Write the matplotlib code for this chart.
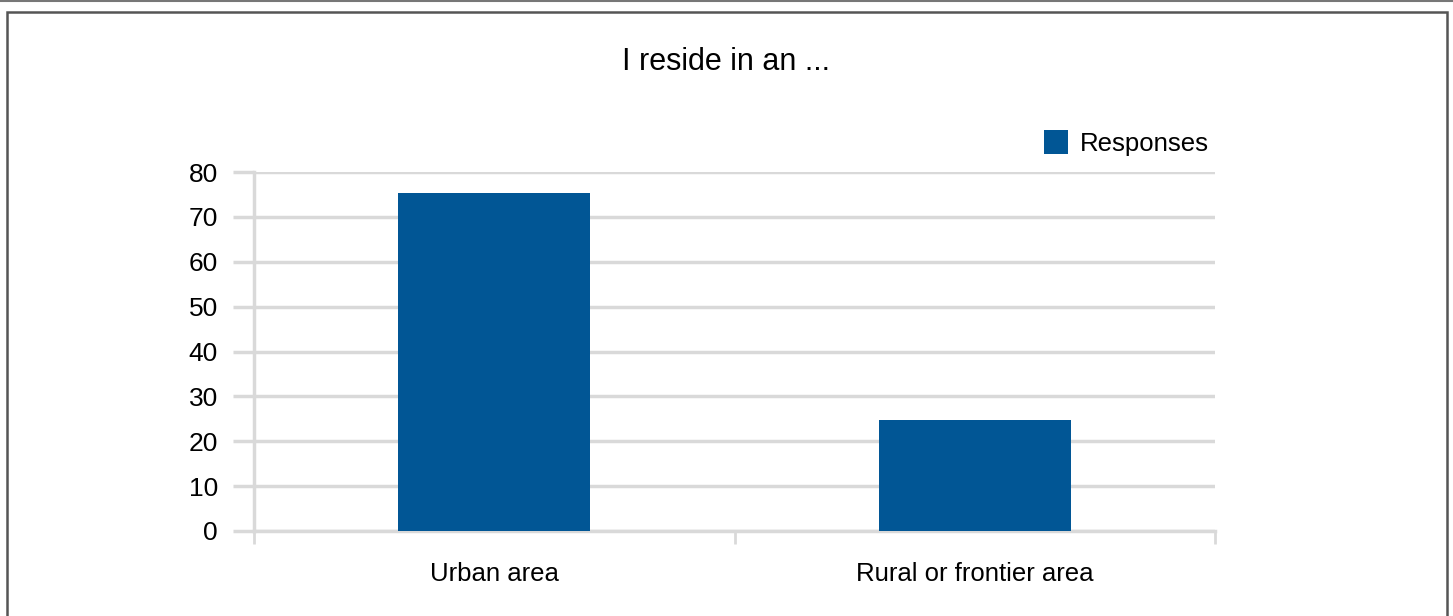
import matplotlib
matplotlib.use("Agg")
import matplotlib.pyplot as plt
from matplotlib.patches import Rectangle
from matplotlib.lines import Line2D
from matplotlib import font_manager

names = {f.name for f in font_manager.fontManager.ttflist}
fam = 'Liberation Sans Narrow' if 'Liberation Sans Narrow' in names else 'Liberation Sans'
plt.rcParams['font.family'] = [fam, 'DejaVu Sans']

categories = ["Urban area", "Rural or frontier area"]
responses = [75.3, 24.7]
series_name = "Responses"
title = "I reside in an ..."
yticks = [0, 10, 20, 30, 40, 50, 60, 70, 80]

W, H = 1453, 616
fig = plt.figure(figsize=(W/100, H/100), dpi=100)
bar_color = "#015695"
grid_color = "#d9d9d9"

ax = fig.add_axes([254/W, 1-531/H, (1215-254)/W, (531-172)/H])
x = list(range(len(categories)))
ax.bar(x, responses, width=0.4, color=bar_color, label=series_name, zorder=3)
ax.set_xlim(-0.5, len(categories)-0.5)
ax.set_ylim(0, 80)
ax.set_yticks(yticks)
ax.set_yticklabels([str(v) for v in yticks], fontsize=19)
ax.set_xticks([-0.5, 0.5, 1.5], minor=False)
ax.set_xticklabels([])
ax.set_xticks(x, minor=True)
ax.set_xticklabels(categories, minor=True, fontsize=18.5)
ax.tick_params(axis='x', which='major', length=9, width=2, color=grid_color, direction='out')
ax.tick_params(axis='x', which='minor', length=0, pad=22)
ax.tick_params(axis='y', length=15, width=2.5, color=grid_color, pad=11)
for s in ['top', 'right']:
    ax.spines[s].set_visible(False)
ax.spines['left'].set_color(grid_color)
ax.spines['left'].set_linewidth(2.5)
ax.spines['bottom'].set_color(grid_color)
ax.spines['bottom'].set_linewidth(2.5)
ax.yaxis.grid(True, color=grid_color, linewidth=2.5, zorder=0)
ax.set_axisbelow(True)

fig.text(0.5, 1-62/H, title, ha='center', va='center', fontsize=22)

leg = ax.legend(loc='center right', bbox_to_anchor=(1209/W, 1-143/H), bbox_transform=fig.transFigure,
                frameon=False, fontsize=18.5, handlelength=0.95, handleheight=1.05, handletextpad=0.45,
                borderpad=0, borderaxespad=0)

# frame
fig.add_artist(Rectangle((7/W, -0.01), (1447-7)/W, (H-12)/H + 0.01, transform=fig.transFigure,
                         fill=False, edgecolor='#555555', linewidth=1.8))
fig.add_artist(Line2D([0, 1], [1-0.8/H, 1-0.8/H], transform=fig.transFigure, color='#777777', linewidth=1.5))

fig.savefig("out.png", dpi=100)
